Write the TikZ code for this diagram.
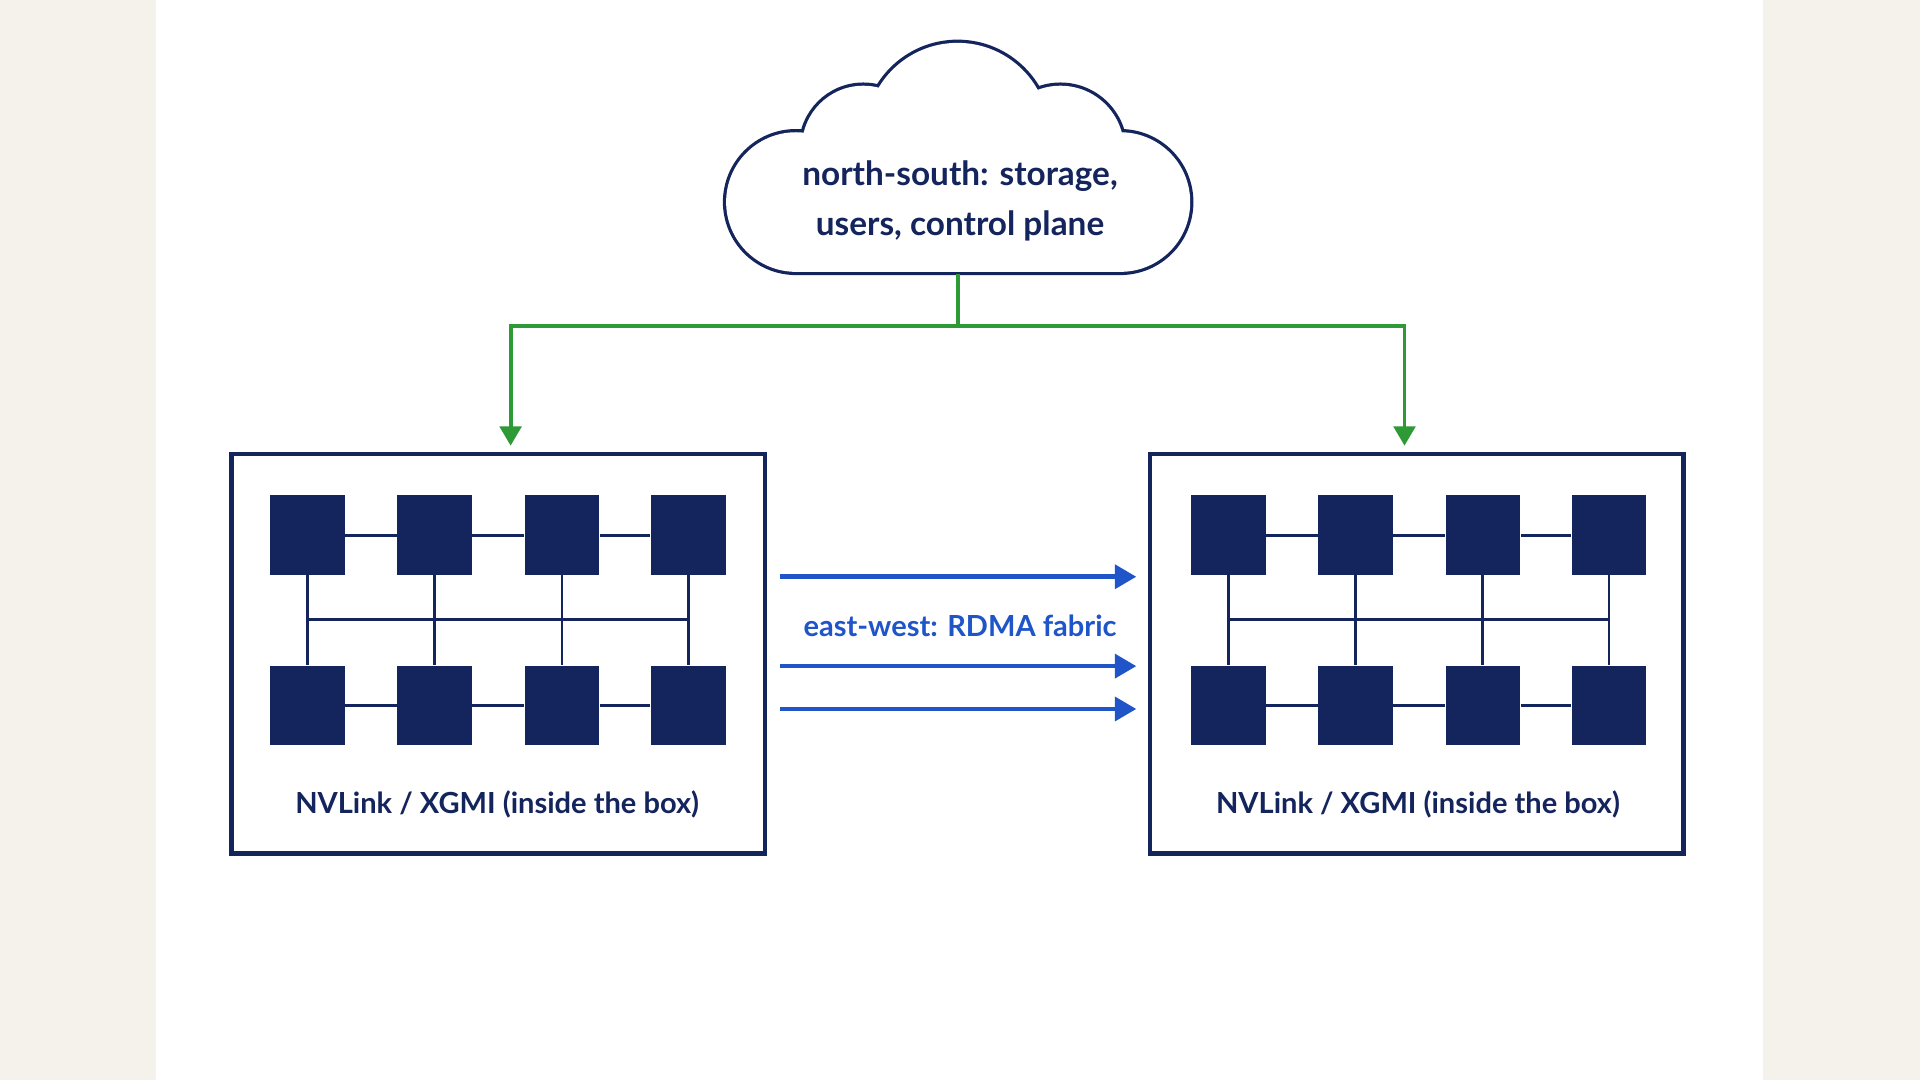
\documentclass[tikz,border=0pt]{standalone}
\usepackage{fontspec}
\setmainfont{Lato}
\usetikzlibrary{arrows.meta}
\definecolor{navy}{HTML}{14245C}
\definecolor{mygreen}{HTML}{2E9A35}
\definecolor{myblue}{HTML}{1F55C8}
\definecolor{cream}{HTML}{F5F2EC}
\tikzset{
  gpu/.style={fill=navy, minimum width=1.22cm, minimum height=1.3cm, inner sep=0pt},
  server/.style={draw=navy, line width=2pt, minimum width=8.72cm, minimum height=6.52cm, inner sep=0pt},
  link/.style={navy, line width=1.3pt},
  uplink/.style={mygreen, line width=1.8pt, -{Triangle[length=9pt,width=10pt]}},
  fabric/.style={myblue, line width=2.2pt, -{Triangle[length=10pt,width=11pt]}},
  lbl/.style={font=\bfseries\fontsize{13.5}{17}\selectfont, text=navy, align=center}
}
\begin{document}
\begin{tikzpicture}[x=0.02cm, y=-0.02cm]
		% Background
		\fill[cream] (0,0) rectangle (1568,882);
		\fill[white] (127,0) rectangle (1440,882);
		
		% Draw the cloud
		\def\cloud{(650,165) circle (57) (705,120) circle (50) (782,110) circle (75)
			(866,122) circle (52) (915,165) circle (57) (650,150) rectangle (915,222)}
		\draw[navy, line width=3pt] \cloud;
		\fill[white] (650,165) circle (57);
		\fill[white] (705,120) circle (50);
		\fill[white] (782,110) circle (75);
		\fill[white] (866,122) circle (52);
		\fill[white] (915,165) circle (57);
		\fill[white] (650,150) rectangle (915,222);
		\node[lbl, font=\bfseries\fontsize{15.5}{23}\selectfont] (cloud) at (784,164) {north-south: storage,\\users, control plane};
		
		% Servers
		\node[server] (boxL) at (407,534) {};
		\node[server] (boxR) at (1157,534) {};
		\foreach \s/\x in {L/0, R/752}{
			\foreach \i/\c in {1/251, 2/355, 3/459, 4/562}{
				\node[gpu] (\s t\i) at (\c+\x,437) {};
				\node[gpu] (\s b\i) at (\c+\x,576) {};
				\coordinate (\s m\i) at (\c+\x,506);
			}
			\foreach \i/\j in {1/2, 2/3, 3/4}{
				\draw[link] (\s t\i) -- (\s t\j);
				\draw[link] (\s b\i) -- (\s b\j);
			}
			\foreach \i in {1,...,4}
				\draw[link] (\s t\i) -- (\s b\i);
			\draw[link] (\s m1) -- (\s m4);
			\node[lbl] (\s label) at (406+\x,657) {NVLink / XGMI (inside the box)};
		}
		
		% North-south links
		\coordinate (split) at (782,266);
		\coordinate (inL) at (417,364);
		\coordinate (inR) at (1147,364);
		\draw[mygreen, line width=1.8pt] (782,224) -- (split);
		\draw[uplink] (split) -| (inL);
		\draw[uplink] (split) -| (inR);
		
		% East-west links
		\foreach \y in {471,544,579}
			\draw[fabric] (637,\y) -- (928,\y);
		\node[lbl, text=myblue] (ew) at (784,511) {east-west: RDMA fabric};
\end{tikzpicture}
\end{document}
